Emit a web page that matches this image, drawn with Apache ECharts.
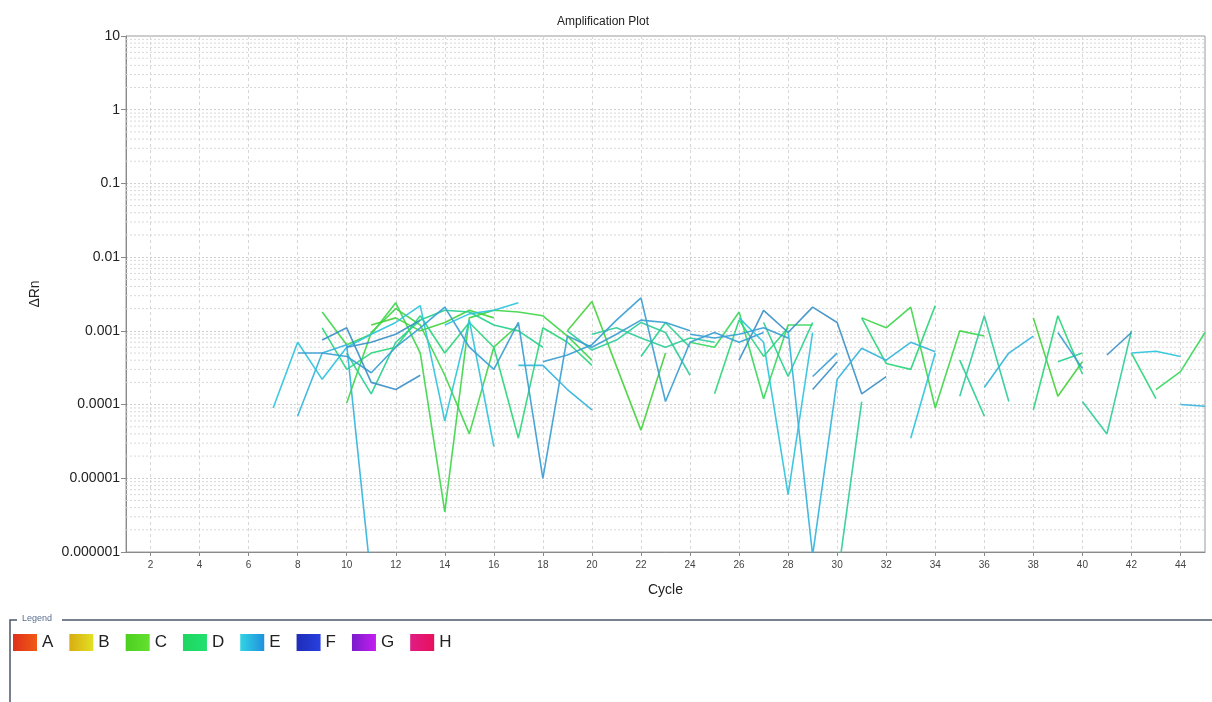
<!DOCTYPE html>
<html>
<head>
<meta charset="utf-8">
<script src="https://cdn.jsdelivr.net/npm/echarts/dist/echarts.min.js"></script>
<style>
html,body{margin:0;padding:0;background:#fff;}
#chart{width:1212px;height:702px;}
</style>
</head>
<body>
<div id="chart"></div>
<script>
// ---------- data ----------
const legendNames = ['A','B','C','D','E','F','G','H'];
const xTickValues = [2,4,6,8,10,12,14,16,18,20,22,24,26,28,30,32,34,36,38,40,42,44];
const yTickLabels = ['0.000001','0.00001','0.0001','0.001','0.01','0.1','1','10'];

// row C fragments [cycle, dRn]
const rowC_1 = [[9,1.8e-3],[10,6.5e-4],[11,9e-4],[12,2.4e-3],[13,5e-4],[14,3.5e-6],[15,1.5e-3],[16,1.9e-3],[17,1.8e-3],[18,1.6e-3],[19,8.5e-4],[20,4e-4]];
const rowC_2 = [[19,1e-3],[20,2.5e-3],[21,3.3e-4],[22,4.5e-5],[23,5e-4]];
const rowC_3 = [[24,7e-4],[25,6e-4],[26,1.8e-3],[27,1.2e-4],[28,1.2e-3],[29,1.2e-3]];
const rowC_4 = [[31,1.5e-3],[32,1.1e-3],[33,2.1e-3],[34,9e-5],[35,1e-3],[36,8.5e-4]];
const rowC_5 = [[38,1.5e-3],[39,1.3e-4],[40,3.8e-4]];
const rowC_6 = [[43,1.6e-4],[44,2.8e-4],[45,9.5e-4]];
const rowC_7 = [[10,1.05e-4],[11,9.5e-4],[12,2e-3],[13,1.2e-3],[14,2.5e-4],[15,4e-5],[16,6e-4],[17,1.2e-3]];
const rowC_8 = [[11,1.2e-3],[12,1.5e-3],[13,1e-3],[14,1.3e-3],[15,1.9e-3],[16,1.5e-3]];

// row D fragments
const rowD_1 = [[9,1.1e-3],[10,3e-4],[11,5e-4],[12,6e-4],[13,1.6e-3],[14,5e-4],[15,1.3e-3],[16,6e-4],[17,3.5e-5],[18,1.1e-3],[19,7e-4],[20,3.4e-4]];
const rowD_2 = [[10,5e-4],[11,1.4e-4],[12,7e-4],[13,1.4e-3],[14,1.9e-3],[15,1.8e-3],[16,1.2e-3],[17,1e-3],[18,6e-4]];
const rowD_3 = [[19,1e-3],[20,5.5e-4],[21,7.5e-4],[22,1.3e-3],[23,9.5e-4],[24,2.5e-4]];
const rowD_4 = [[25,1.4e-4],[26,1.4e-3],[27,4.5e-4],[28,1.1e-3]];
const rowD_5 = [[27,1.3e-3],[28,2.4e-4],[29,1.3e-3]];
const rowD_6 = [[30,4e-7],[31,1.1e-4]];
const rowD_7 = [[31,1.5e-3],[32,3.6e-4],[33,3e-4],[34,2.2e-3]];
const rowD_8 = [[35,4e-4],[36,7e-5]];
const rowD_9 = [[35,1.3e-4],[36,1.6e-3],[37,1.1e-4]];
const rowD_10 = [[38,8.5e-5],[39,1.6e-3],[40,2.6e-4]];
const rowD_11 = [[39,3.8e-4],[40,5e-4]];
const rowD_12 = [[40,1.1e-4],[41,4e-5],[42,1e-3]];
const rowD_13 = [[42,5e-4],[43,1.2e-4]];
const rowD_14 = [[22,4.5e-4],[23,1.3e-3],[24,6e-4]];
const rowD_15 = [[20,9e-4],[21,1.1e-3],[22,8e-4],[23,6e-4],[24,8e-4],[25,7e-4]];

// row E fragments
const rowE_1 = [[7,9e-5],[8,7e-4],[9,2.2e-4],[10,6e-4],[11,9e-4],[12,1.3e-3],[13,2.2e-3],[14,6e-5],[15,1.4e-3],[16,2.7e-5]];
const rowE_2 = [[8,7e-5],[9,5e-4],[10,6.5e-4],[11,4e-7]];
const rowE_3 = [[8,5e-4],[9,5e-4],[10,4.5e-4],[11,2.7e-4],[12,6e-4],[13,1.1e-3],[14,2.1e-3],[15,6e-4],[16,3e-4],[17,1.3e-3],[18,1e-5],[19,8.5e-4],[20,6e-4],[21,9e-4],[22,1.4e-3],[23,1.3e-3],[24,1e-3]];
const rowE_4 = [[9,7.5e-4],[10,1.1e-3],[11,2e-4],[12,1.6e-4],[13,2.5e-4]];
const rowE_5 = [[14,1.2e-3],[15,1.7e-3],[16,1.9e-3],[17,2.4e-3]];
const rowE_6 = [[17,3.4e-4],[18,3.4e-4],[19,1.6e-4],[20,8.5e-5]];
const rowE_7 = [[18,3.8e-4],[19,4.7e-4],[20,6.5e-4],[21,1.4e-3],[22,2.8e-3],[23,1.1e-4],[24,7e-4],[25,9.5e-4],[26,7e-4],[27,9.5e-4]];
const rowE_8 = [[26,4e-4],[27,1.9e-3],[28,9.5e-4],[29,2.1e-3],[30,1.3e-3],[31,1.4e-4],[32,2.4e-4]];
const rowE_9 = [[26,1.5e-3],[27,7e-4],[28,6e-6],[29,9.5e-4]];
const rowE_10 = [[28,1e-3],[29,9e-7],[30,2.2e-4],[31,5.8e-4],[32,4e-4],[33,7e-4],[34,5.2e-4]];
const rowE_11 = [[29,2.4e-4],[30,5e-4]];
const rowE_12 = [[29,1.6e-4],[30,3.8e-4]];
const rowE_13 = [[33,3.5e-5],[34,5e-4]];
const rowE_14 = [[36,1.7e-4],[37,5e-4],[38,8.5e-4]];
const rowE_15 = [[39,9.5e-4],[40,3.1e-4]];
const rowE_16 = [[41,4.7e-4],[42,9.5e-4]];
const rowE_17 = [[42,5e-4],[43,5.3e-4],[44,4.5e-4]];
const rowE_18 = [[44,1e-4],[45,9.5e-5]];
const rowE_19 = [[24,9e-4],[25,8e-4],[26,9e-4],[27,1.1e-3],[28,8e-4]];
const rowE_20 = [[10,6e-4],[11,7e-4],[12,9e-4],[13,1.4e-3]];

const rowC = [rowC_1,rowC_2,rowC_3,rowC_4,rowC_5,rowC_6,rowC_7,rowC_8];
const rowD = [rowD_1,rowD_2,rowD_3,rowD_4,rowD_5,rowD_6,rowD_7,rowD_8,rowD_9,rowD_10,rowD_11,rowD_12,rowD_13,rowD_14,rowD_15];
const rowE = [rowE_1,rowE_2,rowE_3,rowE_4,rowE_5,rowE_6,rowE_7,rowE_8,rowE_9,rowE_10,rowE_11,rowE_12,rowE_13,rowE_14,rowE_15,rowE_16,rowE_17,rowE_18,rowE_19,rowE_20];

// ---------- styles ----------
const colorsC = ['#3fd64a','#45d23c','#38d85c'];
const colorsD = ['#2bd67a','#28d08e','#30cc9a'];
const colorsE = ['#2ec4dc','#35b4dc','#3a9ed2','#3d90c8'];
const legendGrad = {
  A:['#e0301c','#f05a14'], B:['#d8ac10','#e2e024'], C:['#4cd020','#64e030'], D:['#1ed660','#22e070'],
  E:['#30d4e4','#2090dc'], F:['#1e2cb8','#2840e0'], G:['#7a1ccc','#c41ef0'], H:['#e01c84','#e8105c']
};
function grad(c){ return new echarts.graphic.LinearGradient(0,0,1,0,[{offset:0,color:c[0]},{offset:1,color:c[1]}]); }

const series = [];

// minor log gridlines (2..9 of each decade), drawn through the axes' own scales
for (let e=-6; e<1; e++){
  for (let m=2; m<=9; m++){
    const v = m*Math.pow(10,e);
    series.push({
      name:'__grid', type:'line', data:[[1,v],[45,v]], z:0, silent:true, animation:false,
      symbol:'none', showSymbol:false, tooltip:{show:false},
      lineStyle:{color:'#d8d8d8', type:[2,2], width:1}
    });
  }
}

function addRow(name, frags, colors){
  frags.forEach((d,i)=>{
    series.push({
      name: name, type:'line', data: d, showSymbol:false, symbol:'none',
      clip:true, silent:true, animation:false, z:3,
      lineStyle:{width:1.6, color: colors[i % colors.length], opacity:0.92},
      itemStyle:{color: colors[i % colors.length]}
    });
  });
}
addRow('C', rowC, colorsC);
addRow('D', rowD, colorsD);
addRow('E', rowE, colorsE);
['A','B','F','G','H'].forEach(n=>{
  series.push({name:n, type:'line', data:[], symbol:'none', itemStyle:{color:legendGrad[n][0]}});
});

const chart = echarts.init(document.getElementById('chart'), null, {renderer:'canvas'});
chart.setOption({
  animation:false,
  backgroundColor:'#fff',
  textStyle:{fontFamily:'Liberation Sans, Arial, sans-serif'},
  title:{text:'Amplification Plot', left:552, top:11,
    textStyle:{fontSize:12, fontWeight:'normal', color:'#222', fontFamily:'Liberation Sans, Arial, sans-serif'}},
  grid:{left:126, right:7, top:36, bottom:150, show:true, borderColor:'#9a9a9a', borderWidth:1, backgroundColor:'#fff'},
  legend:{
    left:13, top:634, padding:0, itemWidth:24, itemHeight:17, itemGap:16, icon:'rect',
    textStyle:{fontSize:17, color:'#222'},
    data: legendNames.map(n=>({name:n, icon:'rect', itemStyle:{color:grad(legendGrad[n])}})),
    selectedMode:false
  },
  xAxis:{
    type:'value', min:1, max:45,
    name:'Cycle', nameLocation:'middle', nameGap:31,
    nameTextStyle:{fontSize:14, color:'#222'},
    axisLine:{show:true, lineStyle:{color:'#8a8a8a'}},
    axisTick:{show:true, length:4, customValues:xTickValues, lineStyle:{color:'#8a8a8a'}},
    axisLabel:{customValues:xTickValues, fontSize:10, color:'#444', margin:8},
    splitLine:{show:true, lineStyle:{color:'#d6d6d6', type:[3,3]}}
  },
  yAxis:{
    type:'log', logBase:10, min:1e-6, max:10,
    name:'ΔRn', nameLocation:'middle', nameGap:84,
    nameTextStyle:{fontSize:14, color:'#222'},
    axisLine:{show:true, lineStyle:{color:'#8a8a8a'}},
    axisTick:{show:true, length:5, lineStyle:{color:'#8a8a8a'}},
    axisLabel:{fontSize:14, color:'#222', margin:6,
      formatter: v => yTickLabels[Math.round(Math.log10(v))+6]},
    splitLine:{show:true, lineStyle:{color:'#cfcfcf', type:[2,2]}}
  },
  series: series,
  graphic:[
    {type:'polyline', silent:true, shape:{points:[[10,702],[10,620],[17,620]]}, style:{stroke:'#4a5868', lineWidth:1.5, fill:null}},
    {type:'line', silent:true, shape:{x1:62, y1:620, x2:1212, y2:620}, style:{stroke:'#4a5868', lineWidth:1.5}},
    {type:'text', silent:true, left:22, top:614, style:{text:'Legend', fontSize:9, fill:'#5a7090', fontFamily:'Liberation Sans, Arial, sans-serif'}}
  ]
});
</script>
</body>
</html>
